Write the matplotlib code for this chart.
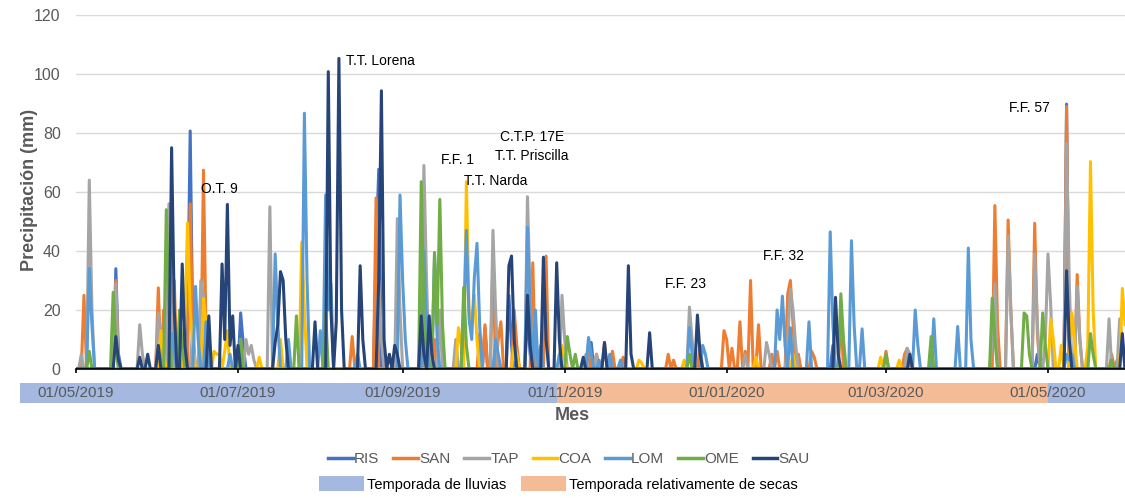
import numpy as np
import matplotlib
matplotlib.use("Agg")
import matplotlib.pyplot as plt
import matplotlib.dates as mdates
import matplotlib.transforms as mtransforms
from matplotlib.lines import Line2D
from matplotlib.patches import Patch, Rectangle

plt.rcParams["font.family"] = ["Liberation Sans", "DejaVu Sans"]

# daily rain, day 0 = 01/05/2019, every day not listed is 0 mm
start = np.datetime64("2019-05-01")
n_days = 396

names = ["RIS", "SAN", "TAP", "COA", "LOM", "OME", "SAU"]
colors = ["#4472C4", "#ED7D31", "#A5A5A5", "#FFC000", "#5B9BD5", "#70AD47", "#264478"]

ris_day = [15, 16, 42, 43, 44, 62, 63, 113, 114, 154, 163, 164, 170, 171, 194, 285, 362, 373]
ris_mm = [34, 5, 15, 80.7, 10, 19, 8, 40, 67.7, 14, 25, 8, 20, 5, 9, 8, 5, 89.8]

san_day = [3, 15, 31, 33, 34, 37, 43, 44, 48, 49, 104, 113, 130, 135, 152, 154, 157, 159, 160, 165,
           166, 172, 177, 193, 196, 199, 202, 206, 223, 225, 235, 244, 245, 247, 250, 252, 254, 257,
           262, 264, 268, 269, 270, 272, 277, 278, 288, 305, 312, 313, 346, 347, 351, 352, 361, 362,
           373, 377, 378, 390, 392]
san_mm = [25, 30, 27.5, 20, 8, 30, 56, 10, 67.4, 10, 11, 58, 5, 10, 12, 15, 37, 10, 16, 20,
          8, 36, 38.3, 9, 5, 9, 6, 4, 5, 3, 8, 13, 10, 7, 16, 6, 30, 15,
          5, 6, 25.5, 30, 15, 5, 6, 4, 19, 6, 5, 7, 55.4, 15, 50.5, 20, 49.4, 12,
          89, 32, 10, 5, 3]

tap_day = [2, 5, 6, 15, 24, 25, 31, 32, 35, 36, 44, 47, 48, 62, 64, 65, 66, 67, 73, 114,
           115, 121, 122, 131, 132, 137, 143, 157, 158, 170, 171, 183, 184, 192, 196, 231, 232, 252,
           260, 261, 268, 269, 270, 271, 313, 314, 345, 346, 351, 352, 361, 362, 365, 366, 367, 373,
           374, 377, 378, 389, 393, 394]
tap_mm = [5, 64, 20, 29, 15, 5, 19, 10, 56, 20, 15, 30, 25, 10, 10, 5, 8, 3, 55, 30,
          10, 51, 20, 69, 30, 20, 10, 47, 20, 58.4, 25, 25, 10, 5, 5, 21, 10, 5,
          9, 5, 10, 27, 20, 8, 7, 5, 10, 29, 45, 20, 39, 15, 10, 39, 22, 76.4,
          30, 28, 10, 17, 17, 10]

coa_day = [32, 33, 41, 42, 43, 44, 48, 49, 52, 53, 54, 56, 57, 69, 77, 85, 86, 144, 145, 147,
           148, 149, 150, 151, 165, 166, 183, 184, 212, 213, 229, 256, 270, 303, 310, 367, 368, 371,
           375, 376, 381, 382, 383, 394, 395]
coa_mm = [13, 5, 15, 49.5, 20, 8, 24, 15, 6, 5, 5, 6, 13, 4, 10, 43, 20, 14, 8, 63.5,
          20, 15, 25, 10, 8, 5, 8, 3, 3, 2, 3, 4, 5, 4, 3, 17, 10, 8,
          19, 10, 8, 70.3, 20, 27.3, 15]

lom_day = [5, 6, 36, 37, 45, 46, 49, 58, 75, 76, 80, 86, 87, 92, 94, 95, 96, 106, 122, 123,
           124, 131, 132, 135, 136, 146, 147, 148, 149, 150, 151, 152, 158, 159, 170, 171, 173, 175,
           182, 193, 194, 197, 201, 205, 231, 232, 236, 237, 264, 265, 266, 267, 269, 276, 284, 285,
           292, 293, 296, 316, 317, 323, 332, 336, 337, 373, 374, 375]
lom_mm = [34, 15, 12, 5, 28, 10, 16, 5, 39, 15, 10, 86.7, 30, 13, 59, 20, 29, 5, 59, 30,
          10, 40, 15, 39, 10, 17, 47, 17, 10, 31, 42.6, 15, 10, 5, 48, 20, 20, 8,
          5, 10.7, 5, 3, 5, 3, 14, 5, 8, 5, 20, 10, 24.7, 8, 14, 16, 46.5, 15,
          43.5, 15, 13.6, 20, 8, 17, 14.4, 41, 10, 5, 3, 5]

ome_day = [5, 14, 15, 34, 35, 39, 40, 62, 83, 94, 130, 131, 135, 136, 137, 138, 146, 147, 185, 186,
           188, 231, 288, 289, 305, 322, 345, 346, 357, 358, 359, 364, 365, 382, 383, 390]
ome_mm = [6, 26, 8, 54, 20, 20, 8, 10, 18, 19, 63.5, 20, 39.5, 15, 57.5, 15, 27.7, 8, 11, 5,
          5, 5, 25.5, 10, 5, 11, 24, 10, 19, 18, 5, 19, 8, 12, 5, 3]

sau_day = [15, 16, 24, 27, 31, 36, 37, 40, 41, 50, 55, 56, 57, 58, 59, 61, 75, 76, 77, 78,
           79, 90, 95, 96, 98, 99, 100, 107, 108, 114, 115, 116, 118, 120, 121, 130, 131, 133,
           134, 163, 164, 165, 170, 171, 176, 177, 181, 182, 191, 199, 208, 209, 216, 234, 235, 286,
           287, 314, 373, 374, 394]
sau_mm = [11, 3, 4, 5, 8, 75, 20, 35.6, 8, 18, 35.6, 10, 55.8, 8, 18, 8, 9, 15, 33, 30,
          10, 16, 100.8, 20, 16, 105.3, 20, 35, 10, 30, 94.3, 10, 5, 8, 5, 18, 5, 18,
          5, 35, 38.3, 10, 25, 8, 37.9, 10, 36, 10, 4, 9, 35, 5, 12.3, 18.3, 5, 24.3,
          5, 5, 33.3, 10, 12]

all_days = [ris_day, san_day, tap_day, coa_day, lom_day, ome_day, sau_day]
all_mm = [ris_mm, san_mm, tap_mm, coa_mm, lom_mm, ome_mm, sau_mm]

# events written over the peaks
ev_text = ["O.T. 9", "T.T. Lorena", "F.F. 1", "T.T. Narda", "C.T.P. 17E", "T.T. Priscilla",
           "F.F. 23", "F.F. 32", "F.F. 57"]
ev_day = [53.8, 114.7, 143.6, 158, 171.8, 171.8, 229.6, 266.4, 359.1]
ev_mm = [61, 104.4, 70.8, 63.7, 78.6, 72.2, 28.8, 38.3, 88.5]

# seasons band under the axis (days from start)
season_from = [-21, 181, 366]
season_to = [181, 366, 396]
season_col = ["#A4B8E0", "#F4BC96", "#A4B8E0"]

tick_dates = ["2019-05-01", "2019-07-01", "2019-09-01", "2019-11-01",
              "2020-01-01", "2020-03-01", "2020-05-01"]

dates = start + np.arange(n_days)
x0 = mdates.date2num(start.astype(object))

fig = plt.figure(figsize=(11.25, 4.98), dpi=100)
ax = fig.add_axes([76 / 1125, 1 - 369 / 498, 1 - 76 / 1125, (369 - 15) / 498])

for name, col, d, v in zip(names, colors, all_days, all_mm):
    y = np.zeros(n_days)
    y[d] = v
    ax.plot(dates, y, color=col, lw=2.2, solid_joinstyle="round")

for t, d, v in zip(ev_text, ev_day, ev_mm):
    ax.text(x0 + d, v, t, ha="center", va="center", fontsize=10, color="black")

ax.set_ylim(0, 120)
ax.set_yticks(range(0, 121, 20))
ax.set_xlim(x0, x0 + 395)
ax.set_xticks([mdates.date2num(np.datetime64(t).astype(object)) for t in tick_dates])
ax.xaxis.set_major_formatter(mdates.DateFormatter("%d/%m/%Y"))

ax.yaxis.grid(True, color="#D9D9D9", lw=1)
ax.set_axisbelow(True)
for s in ["top", "right", "left"]:
    ax.spines[s].set_visible(False)
ax.spines["bottom"].set_color("black")
ax.spines["bottom"].set_linewidth(1.2)
ax.tick_params(axis="y", length=0, pad=11, labelsize=11.5, labelcolor="#595959")
ax.tick_params(axis="x", direction="out", length=3, width=1.2, color="black",
               pad=9, labelsize=11, labelcolor="#595959")

trans = mtransforms.blended_transform_factory(ax.transData, ax.transAxes)
for a, b, c in zip(season_from, season_to, season_col):
    ax.add_patch(Rectangle((x0 + a, -0.096), b - a, 0.057, transform=trans,
                           facecolor=c, edgecolor="none", clip_on=False, zorder=0.5))

fig.text(30 / 1125, 1 - 190 / 498, "Precipitación (mm)", rotation=90, ha="center", va="center",
         fontsize=13, fontweight="bold", color="#595959")
fig.text(572 / 1125, 1 - 416 / 498, "Mes", ha="center", va="center",
         fontsize=13, fontweight="bold", color="#595959")

h1 = [Line2D([], [], color=c, lw=2.5) for c in colors]
fig.legend(h1, names, loc="center", bbox_to_anchor=(569 / 1125, 1 - 459 / 498), ncol=7,
           frameon=False, fontsize=11, handlelength=1.6, handletextpad=0.1,
           columnspacing=0.9, labelcolor="#595959")
h2 = [Patch(facecolor="#A4B8E0"), Patch(facecolor="#F4BC96")]
fig.legend(h2, ["Temporada de lluvias", "Temporada relativamente de secas"], loc="center",
           bbox_to_anchor=(558 / 1125, 1 - 484 / 498), ncol=2, frameon=False, fontsize=10.5,
           handlelength=3.1, handleheight=1.2, handletextpad=0.2, columnspacing=1.0)

fig.savefig("out.png", dpi=100)
